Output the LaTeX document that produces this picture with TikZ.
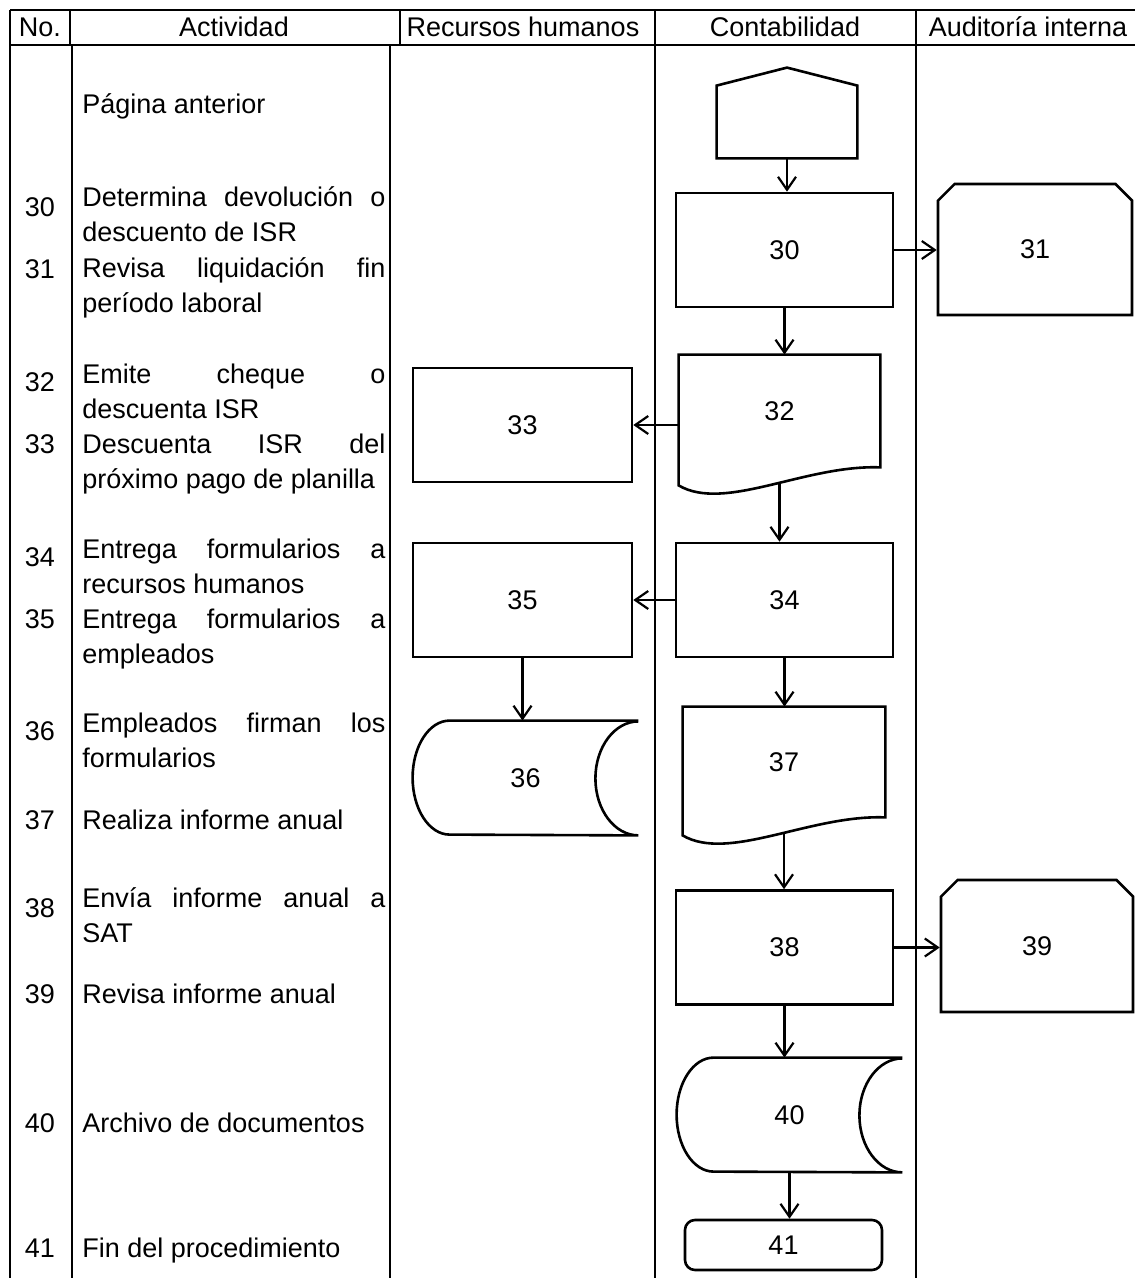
\documentclass[tikz,border=0pt]{standalone}
\usepackage{fontspec}
\setmainfont{Liberation Sans}
\usepackage{tikz}
\usetikzlibrary{calc,shapes.misc,arrows.meta}

\tolerance=10000
\hbadness=10000
\hyphenpenalty=10000

\tikzset{
  every node/.style={font=\fontsize{13.5}{17.5}\selectfont},
  linea/.style={line width=1.3pt},
  tabla/.style={line width=1pt},
  flecha/.style={line width=1.1pt,-{Straight Barb[length=6.5pt,width=9pt]}},
  caja/.style={draw,linea,minimum width=108.5pt,minimum height=57pt,inner sep=0pt},
  hueco/.style={minimum width=#1,inner sep=0pt},
  tarjeta/.style={draw,linea,chamfered rectangle,chamfered rectangle corners={north west,north east},
    chamfered rectangle xsep=10pt,inner sep=0pt},
  fin/.style={draw,linea,rounded corners=5pt,minimum width=98.5pt,minimum height=25pt,inner sep=0pt},
  act/.style={anchor=base west,text width=151.5pt,align=justify,inner sep=0pt},
  num/.style={anchor=base,inner sep=0pt},
  titulo/.style={anchor=base,inner sep=0pt}
}

\newcommand{\documento}[1]{%
  \draw[linea] (#1.north west) -- (#1.north east) -- (#1.south east)
    .. controls ($(#1.south east)+(-75,-3)$) and ($(#1.south west)+(46,45)$) ..
    ($(#1.south west)+(0,18)$) -- cycle;}
\newcommand{\almacen}[1]{%
  \draw[linea] (#1.north east) -- ($(#1.north west)+(37,0)$)
    arc[start angle=90,end angle=270,x radius=18.5pt,y radius=28.5pt]
    -- (#1.south east)
    arc[start angle=270,end angle=90,x radius=21.5pt,y radius=28.5pt];}

\begin{document}
\begin{tikzpicture}[x=0.5pt,y=-0.5pt]
\useasboundingbox (0,0) rectangle (1135,1278);

\draw[tabla] (10,10) -- (1135,10) (10,45) -- (1135,45);
\foreach \x in {10,70,400,655,916}
  \draw[tabla] (\x,10) -- (\x,45);
\foreach \x in {10,72,390,655,916}
  \draw[tabla] (\x,45) -- (\x,1278);

\node[titulo] (hno) at (40,37) {No.};
\node[titulo] (hact) at (234,37) {Actividad};
\node[titulo] (hrh) at (523,37) {Recursos humanos};
\node[titulo] (hcon) at (785,37) {Contabilidad};
\node[titulo] (haud) at (1028,37) {Auditoría interna};

\node[act] (tpag) at (82,114) {Página anterior};
\node[num] (k30) at (40,217) {30};
\node[act] (t30) at (82,207) {Determina devolución o\linebreak descuento de ISR};
\node[num] (k31) at (40,279) {31};
\node[act] (t31) at (82,278) {Revisa liquidación fin\linebreak período laboral};
\node[num] (k32) at (40,391) {32};
\node[act] (t32) at (82,383) {Emite cheque o\linebreak descuenta ISR};
\node[num] (k33) at (40,453) {33};
\node[act] (t33) at (82,453) {Descuenta ISR del\linebreak próximo pago de planilla};
\node[num] (k34) at (40,566) {34};
\node[act] (t34) at (82,558) {Entrega formularios a\linebreak recursos humanos};
\node[num] (k35) at (40,628) {35};
\node[act] (t35) at (82,628) {Entrega formularios a\linebreak empleados};
\node[num] (k36) at (40,740) {36};
\node[act] (t36) at (82,732) {Empleados firman los\linebreak formularios};
\node[num] (k37) at (40,829) {37};
\node[act] (t37) at (82,829) {Realiza informe anual};
\node[num] (k38) at (40,917) {38};
\node[act] (t38) at (82,907) {Envía informe anual a\linebreak SAT};
\node[num] (k39) at (40,1003) {39};
\node[act] (t39) at (82,1003) {Revisa informe anual};
\node[num] (k40) at (40,1132) {40};
\node[act] (t40) at (82,1132) {Archivo de documentos};
\node[num] (k41) at (40,1257) {41};
\node[act] (t41) at (82,1257) {Fin del procedimiento};

\node[hueco=70pt,minimum height=36pt] (pa) at (787,122) {};
\draw[linea] (pa.south west) -- (pa.north west) -- ($(pa.north)+(0,-18)$)
  -- (pa.north east) -- (pa.south east) -- cycle;

\node[caja] (n30) at (784.5,250) {30};
\node[tarjeta,minimum width=97pt,minimum height=65.5pt] (n31) at (1035,249.5) {31};
\node[hueco=100.5pt,minimum height=56pt] (n32) at (779.5,411) {32};
\documento{n32}
\node[caja,minimum width=109.5pt] (n33) at (522.5,425) {33};
\node[caja] (n34) at (784.5,600) {34};
\node[caja,minimum width=109.5pt] (n35) at (522.5,600) {35};
\node[hueco=112.5pt,minimum height=57pt] (n36) at (525.5,778) {36};
\almacen{n36}
\node[hueco=101pt,minimum height=55pt] (n37) at (784,762) {37};
\documento{n37}
\node[caja] (n38) at (784.5,947.5) {38};
\node[tarjeta,minimum width=96pt,minimum height=66pt] (n39) at (1037,946) {39};
\node[hueco=112.5pt,minimum height=57pt] (n40) at (789.5,1115) {40};
\almacen{n40}
\node[fin] (n41) at (783.5,1245) {41};

\coordinate (w32) at ($(n32.south)+(0,15)$);
\coordinate (w37) at ($(n37.south)+(0,15)$);

\draw[flecha] (pa.south) -- (pa.south |- n30.north);
\draw[flecha] (n30.east) -- (n30.east -| n31.west);
\draw[flecha] (n30.south) -- (n30.south |- n32.north);
\draw[flecha] (n33.east -| n32.west) -- (n33.east);
\draw[flecha] (w32) -- (w32 |- n34.north);
\draw[flecha] (n34.west) -- (n34.west -| n35.east);
\draw[flecha] (n35.south) -- (n35.south |- n36.north);
\draw[flecha] (n34.south) -- (n34.south |- n37.north);
\draw[flecha] (w37) -- (w37 |- n38.north);
\draw[flecha] (n38.east) -- (n38.east -| n39.west);
\draw[flecha] (n38.south) -- (n38.south |- n40.north);
\draw[flecha] (n40.south) -- (n40.south |- n41.north);
\end{tikzpicture}
\end{document}
